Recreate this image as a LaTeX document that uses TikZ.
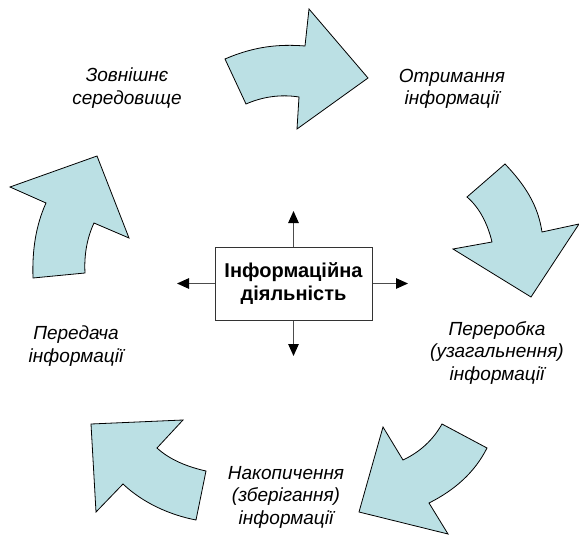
\documentclass[tikz,border=0pt]{standalone}
\usepackage{fontspec}
\setmainfont{Liberation Sans}
\usetikzlibrary{arrows.meta}
\definecolor{arrowfill}{RGB}{187,224,228}
\tikzset{
  bigarrow/.style={draw=black, line width=0.8pt, fill=arrowfill, line join=miter},
  caption/.style={align=center, font=\fontsize{19}{22.5}\selectfont\itshape, inner sep=0pt},
  centerbox/.style={draw=black!80, line width=1pt, fill=white, minimum width=157pt, minimum height=73pt,
                    align=center, font=\fontsize{20}{23}\selectfont\bfseries},
  ray/.style={draw=black!70, line width=1.1pt, -{Triangle[length=12pt,width=10.5pt,color=black]}}
}
\begin{document}
\begin{tikzpicture}[x=1pt,y=-1pt]
\useasboundingbox (0,0) rectangle (579,535);

% curved block arrows around the cycle
\draw[bigarrow] (225,59) .. controls (255,46) and (280,44) .. (305,46) -- (309,9) -- (368,78)
  -- (297,129) -- (299,97) .. controls (280,94) and (262,97) .. (246,104) -- cycle;
\draw[bigarrow] (467,197) -- (505,164) .. controls (525,185) and (538,205) .. (542,232) -- (579,224)
  -- (531,297) -- (453,249) -- (492,242) .. controls (488,225) and (480,208) .. (467,197) -- cycle;
\draw[bigarrow] (442,424) -- (487,448) .. controls (475,472) and (455,490) .. (429,503) -- (448,534)
  -- (359,512) -- (383,427) -- (403,460) .. controls (420,452) and (433,440) .. (442,424) -- cycle;
\draw[bigarrow] (91,424) -- (183,420) -- (157,448) .. controls (170,460) and (188,467) .. (206,471)
  -- (196,520) .. controls (170,515) and (143,503) .. (123,484) -- (96,512) -- cycle;
\draw[bigarrow] (33,278) -- (85,273) .. controls (84,255) and (87,238) .. (94,223) -- (129,238)
  -- (97,156) -- (10,187) -- (46,203) .. controls (36,225) and (32,250) .. (33,278) -- cycle;

% stage captions
\node[caption] (env)   at (127,88)  {Зовнішнє\\середовище};
\node[caption] (recv)  at (452,89)  {Отримання\\інформації};
\node[caption] (proc)  at (497,353) {Переробка\\(узагальнення)\\інформації};
\node[caption] (store) at (286,497) {Накопичення\\(зберігання)\\інформації};
\node[caption] (send)  at (76,346)  {Передача\\інформації};

% central activity box with four outward rays
\node[centerbox] (core) at (293.5,283.5) {Інформаційна\\діяльність};
\coordinate (up)    at (293.5,211);
\coordinate (down)  at (293.5,356);
\coordinate (left)  at (177,283.5);
\coordinate (right) at (408,283.5);
\draw[ray] (core.north) -- (up);
\draw[ray] (core.south) -- (down);
\draw[ray] (core.west)  -- (left);
\draw[ray] (core.east)  -- (right);
\end{tikzpicture}
\end{document}
